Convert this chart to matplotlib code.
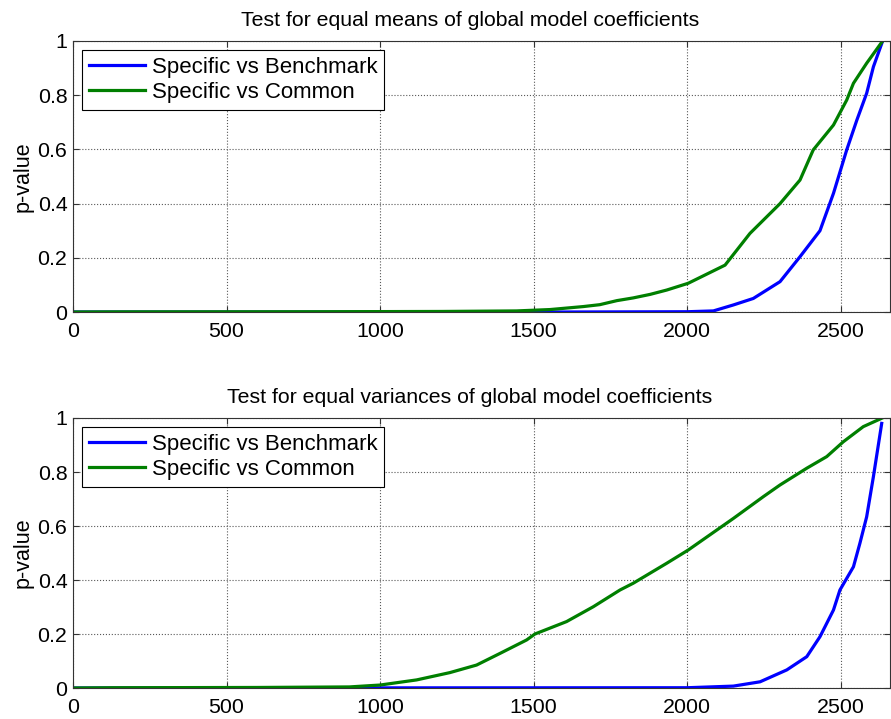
import matplotlib
matplotlib.use("Agg")
import matplotlib.pyplot as plt
from matplotlib.ticker import FuncFormatter

plt.rcParams['font.family'] = ['Liberation Sans', 'DejaVu Sans']

# --- data ---
# top panel: equal means
mean_bench_x = [1, 1600, 2000, 2085, 2150, 2215, 2302, 2367, 2432, 2476, 2519, 2552, 2584, 2606, 2636]
mean_bench_y = [0, 0.0, 0.001, 0.004, 0.026, 0.05, 0.112, 0.204, 0.30, 0.438, 0.598, 0.708, 0.807, 0.905, 1.0]
mean_common_x = [1, 160, 800, 1200, 1444, 1553, 1661, 1715, 1771, 1824, 1879, 1933, 2003, 2123,
                 2204, 2302, 2367, 2410, 2476, 2519, 2541, 2584, 2636]
mean_common_y = [0, 0.0005, 0.001, 0.002, 0.004, 0.009, 0.02, 0.027, 0.042, 0.052, 0.065, 0.081, 0.106, 0.173,
                 0.29, 0.40, 0.487, 0.598, 0.69, 0.782, 0.844, 0.918, 1.0]

# bottom panel: equal variances
var_bench_x = [1, 2000, 2150, 2237, 2324, 2389, 2432, 2476, 2497, 2541, 2562, 2584, 2606, 2633]
var_bench_y = [0, 0.001, 0.007, 0.023, 0.067, 0.116, 0.19, 0.289, 0.363, 0.449, 0.536, 0.634, 0.783, 0.98]
var_common_x = [1, 130, 600, 900, 1000, 1119, 1227, 1314, 1390, 1477, 1504, 1607, 1694, 1781, 1824,
                1933, 2003, 2096, 2150, 2248, 2302, 2389, 2454, 2508, 2573, 2633]
var_common_y = [0, 0.001, 0.002, 0.004, 0.011, 0.03, 0.057, 0.085, 0.128, 0.178, 0.2, 0.246, 0.301, 0.363, 0.388,
                0.462, 0.511, 0.585, 0.628, 0.709, 0.752, 0.814, 0.857, 0.912, 0.968, 0.999]

labels = ['Specific vs Benchmark', 'Specific vs Common']
titles = ['Test for equal means of global model coefficients',
          'Test for equal variances of global model coefficients']
xticks = [0, 500, 1000, 1500, 2000, 2500]
yticks = [0, 0.2, 0.4, 0.6, 0.8, 1]

fig = plt.figure(figsize=(8.91, 7.19), dpi=100)
W, H = 891, 719
ax1 = fig.add_axes([73 / W, 1 - 312 / H, (890 - 73) / W, 271 / H])
ax2 = fig.add_axes([73 / W, 1 - 688 / H, (890 - 73) / W, 270 / H])

panels = [
    (ax1, mean_bench_x, mean_bench_y, mean_common_x, mean_common_y, titles[0]),
    (ax2, var_bench_x, var_bench_y, var_common_x, var_common_y, titles[1]),
]

for ax, bx, by, cx, cy, title in panels:
    ax.plot(bx, by, color='#0000ff', lw=2.3, label=labels[0])
    ax.plot(cx, cy, color='#007f00', lw=2.3, label=labels[1])
    ax.set_xlim(0, 2660)
    ax.set_ylim(0, 1)
    ax.set_xticks(xticks)
    ax.set_yticks(yticks)
    ax.yaxis.set_major_formatter(FuncFormatter(lambda v, p: '%g' % v))
    ax.grid(True, linestyle=':', color='0.35', linewidth=0.8)
    ax.tick_params(direction='in', top=True, right=True, length=4,
                   labelsize=15.4, color='0.2')
    ax.tick_params(axis='x', pad=7)
    ax.tick_params(axis='y', pad=4)
    for s in ax.spines.values():
        s.set_color('0.2')
        s.set_linewidth(0.8)
    ax.set_ylabel('p-value', fontsize=15.5, labelpad=3)
    ax.set_title(title, fontsize=15.3, pad=11, x=0.486)
    leg = ax.legend(loc='upper left', fontsize=16, fancybox=False, framealpha=1,
                    edgecolor='black', handlelength=2.55, borderaxespad=0.4,
                    labelspacing=0.2, handletextpad=0.3, borderpad=0.3)
    leg.get_frame().set_linewidth(0.8)

fig.savefig('out.png', dpi=100)
